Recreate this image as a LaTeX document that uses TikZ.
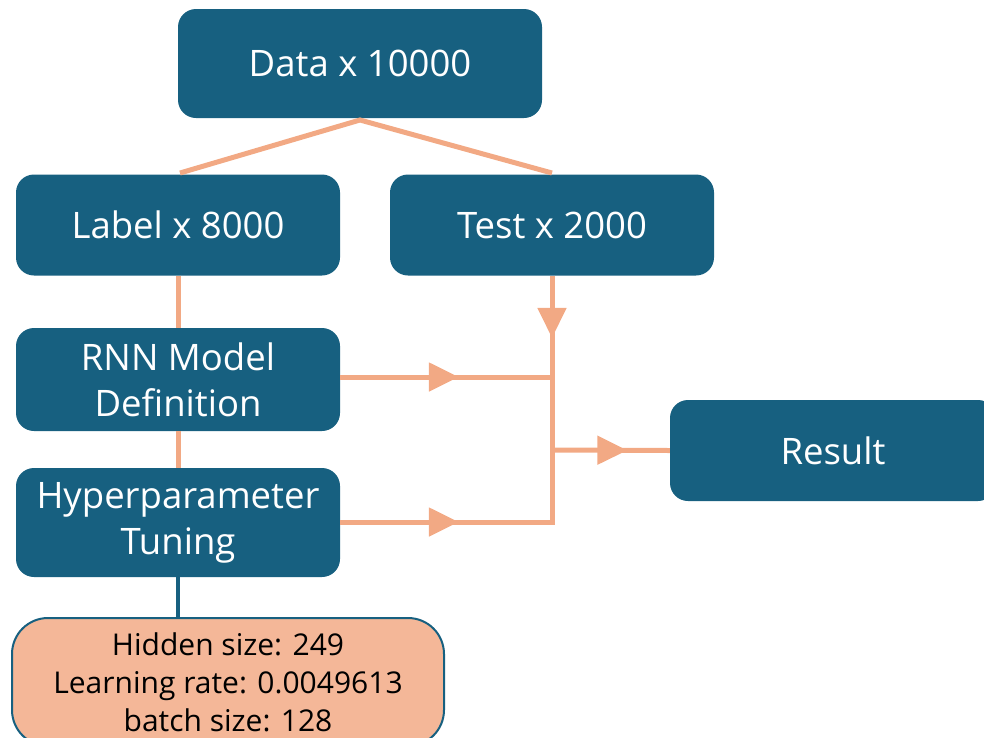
\documentclass[tikz,border=0pt]{standalone}
\usepackage{fontspec}
\setmainfont{Open Sans}
\usetikzlibrary{arrows.meta,decorations.markings}
\definecolor{boxblue}{HTML}{176080}
\definecolor{salmon}{HTML}{F2A984}
\definecolor{paramfill}{HTML}{F4B798}
\begin{document}
\begin{tikzpicture}[x=1pt,y=-1pt,
  bluebox/.style={fill=boxblue, text=white, rounded corners=18pt, minimum width=324pt, minimum height=101pt, font=\fontsize{36.5}{46}\selectfont, align=center, inner sep=0pt},
  link/.style={draw=salmon, line width=5pt},
  midarrow/.style={postaction={decorate}, decoration={markings, mark=at position #1 with {\arrow{Triangle[length=30pt,width=28pt]}}}}
]
\useasboundingbox (0,0) rectangle (984,737);
\node[bluebox, minimum width=364pt, minimum height=109pt] (data) at (360,63.5) {Data x 10000};
\node[bluebox] (label) at (178,225) {Label x 8000};
\node[bluebox] (test) at (552,225) {Test x 2000};
\node[bluebox, minimum height=103pt] (rnn) at (178,379.5) {RNN Model\\Definition};
\node[bluebox, minimum height=109pt] (hyper) at (178,522.5) {Hyperparameter\\Tuning};
\node[bluebox, minimum width=326pt] (result) at (833,450.5) {Result};
\node[fill=paramfill, draw=boxblue, line width=2pt, rounded corners=36pt, minimum width=432pt, minimum height=128pt, align=center, inner sep=0pt, font=\fontsize{30}{38}\selectfont, text=black, anchor=north] (params) at (228,617) {Hidden size: 249\\Learning rate: 0.0049613\\batch size: 128};

\coordinate (top) at (360,120);
\coordinate (junc) at (552,450);
\coordinate (jrnn) at (552,377);
\coordinate (jhyp) at (552,522);
\coordinate (jbot) at (552,524.5);

\draw[link] (180,173) -- (top) -- (552,173);
\draw[link] (label.south) -- (rnn.north);
\draw[link] (rnn.south) -- (hyper.north);
\draw[draw=boxblue, line width=3.5pt] (hyper.south) -- (hyper.south |- params.north);
\draw[link, midarrow=0.25] (test.south) -- (jbot);
\draw[link, midarrow=0.56] (rnn.east |- jrnn) -- (jrnn);
\draw[link, midarrow=0.56] (hyper.east |- jhyp) -- (jhyp);
\draw[link, midarrow=0.64] (junc) -- (result.west);
\end{tikzpicture}
\end{document}
